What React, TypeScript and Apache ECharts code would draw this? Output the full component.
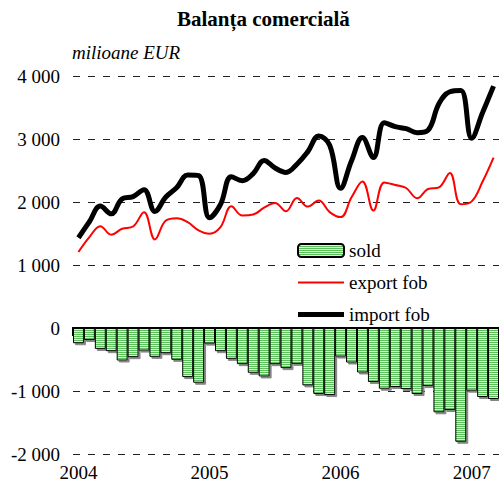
import React, { useEffect, useRef } from "react";
import * as echarts from "echarts";

const months: string[] = [];
for (const y of [2004, 2005, 2006]) for (let m = 1; m <= 12; m++) months.push(`${y}-${String(m).padStart(2, "0")}`);
months.push("2007-01", "2007-02", "2007-03");

const soldValues = [
  -242, -190, -332, -368, -516, -463, -358, -458, -400, -505, -779, -869,
  -248, -368, -490, -574, -711, -769, -574, -637, -569, -911, -1048, -1064,
  -453, -548, -706, -858, -964, -937, -969, -1048, -922, -1338, -1301, -1806,
  -995, -1095, -1127,
];
const exportValues = [
  1206, 1442, 1617, 1480, 1575, 1611, 1838, 1406, 1706, 1743, 1680, 1550,
  1496, 1601, 1932, 1785, 1801, 1910, 1986, 1853, 2064, 1927, 2022, 1840,
  1760, 2074, 2327, 1864, 2311, 2270, 2222, 2059, 2207, 2232, 2460, 1964,
  2010, 2325, 2706,
];
const importValues = [
  1433, 1686, 1935, 1812, 2050, 2085, 2196, 1850, 2080, 2230, 2430, 2420,
  1750, 1960, 2400, 2338, 2450, 2660, 2540, 2470, 2600, 2800, 3049, 2900,
  2217, 2654, 3022, 2706, 3259, 3196, 3164, 3101, 3140, 3560, 3750, 3770,
  3013, 3420, 3839,
];

const FONT = "'Liberation Serif', 'Times New Roman', serif";

const fmt = (v: number) => {
  const s = Math.abs(v).toString().replace(/\B(?=(\d{3})+(?!\d))/g, " ");
  return (v < 0 ? "-" : "") + s;
};

function stripePattern() {
  const c = document.createElement("canvas");
  c.width = 4;
  c.height = 2;
  const ctx = c.getContext("2d");
  if (ctx) {
    ctx.fillStyle = "#5cbf5c";
    ctx.fillRect(0, 0, 4, 1);
    ctx.fillStyle = "#d6f4d6";
    ctx.fillRect(0, 1, 4, 1);
  }
  return { image: c, repeat: "repeat" };
}

export default function App() {
  const ref = useRef<HTMLDivElement>(null);
  useEffect(() => {
    if (!ref.current) return;
    const chart = echarts.init(ref.current, undefined, { renderer: "svg" });
    const yearTick = (i: number) => i % 12 === 0;
    chart.setOption({
      animation: false,
      backgroundColor: "#fff",
      title: [
        {
          text: "Balanța comercială",
          left: 177,
          top: 8,
          padding: 0,
          textStyle: { fontFamily: FONT, fontSize: 21, fontWeight: "bold", color: "#000" },
        },
        {
          text: "milioane EUR",
          left: 72,
          top: 43,
          padding: 0,
          textStyle: { fontFamily: FONT, fontSize: 19, fontStyle: "italic", fontWeight: "normal", color: "#000" },
        },
      ],
      legend: {
        orient: "vertical",
        left: 297,
        top: 241,
        padding: 0,
        itemWidth: 46,
        itemHeight: 13,
        itemGap: 13,
        data: [
          { name: "sold" },
          { name: "export fob", icon: "path://M0,0H46V2H0Z" },
          { name: "import fob", icon: "path://M0,0H46V5H0Z" },
        ],
        textStyle: { fontFamily: FONT, fontSize: 19, color: "#000" },
      },
      grid: { left: 73, right: 0, top: 76, height: 378, containLabel: false },
      xAxis: [
        {
          type: "category",
          data: months,
          boundaryGap: true,
          axisLine: { onZero: true, onZeroAxisIndex: 0, lineStyle: { color: "#000", width: 2 } },
          axisTick: { show: true, interval: yearTick, length: 8, inside: false, lineStyle: { color: "#000", width: 2 } },
          axisLabel: { show: false },
          splitLine: { show: false },
        },
        {
          type: "category",
          data: months,
          boundaryGap: true,
          axisLine: { show: true, onZero: true, onZeroAxisIndex: 0, lineStyle: { color: "#000", width: 2 } },
          axisTick: { show: true, interval: yearTick, length: 8, inside: true, lineStyle: { color: "#000", width: 2 } },
          axisLabel: { show: false },
          splitLine: { show: false },
        },
        {
          type: "category",
          data: months,
          position: "bottom",
          boundaryGap: true,
          axisLine: { show: false, onZero: false },
          axisTick: { show: false },
          axisLabel: {
            show: true,
            interval: yearTick,
            formatter: (v: string) => v.slice(0, 4),
            fontFamily: FONT,
            fontSize: 19,
            color: "#000",
            margin: 9,
          },
          splitLine: { show: false },
        },
      ],
      yAxis: {
        type: "value",
        min: -2000,
        max: 4000,
        interval: 1000,
        axisLine: { show: false },
        axisTick: { show: false },
        axisLabel: { formatter: fmt, fontFamily: FONT, fontSize: 19, color: "#000", margin: 13 },
        splitLine: { show: true, lineStyle: { color: "#222", width: 1, type: [7, 8] } },
      },
      series: [
        {
          name: "sold",
          type: "bar",
          xAxisIndex: 0,
          data: soldValues,
          barCategoryGap: "0%",
          itemStyle: {
            color: stripePattern(),
            borderColor: "#000",
            borderWidth: 1,
            shadowColor: "rgba(120,120,120,0.9)",
            shadowOffsetX: 2,
            shadowOffsetY: 2,
            shadowBlur: 0,
          },
          z: 2,
        },
        {
          name: "export fob",
          type: "line",
          xAxisIndex: 0,
          data: exportValues,
          smooth: 0.4,
          symbol: "none",
          lineStyle: { color: "#ff0000", width: 2 },
          itemStyle: { color: "#ff0000" },
          z: 3,
        },
        {
          name: "import fob",
          type: "line",
          xAxisIndex: 0,
          data: importValues,
          smooth: 0.4,
          symbol: "none",
          lineStyle: { color: "#000", width: 5 },
          itemStyle: { color: "#000" },
          z: 4,
        },
      ],
    });
    return () => chart.dispose();
  }, []);
  return <div ref={ref} style={{ position: "absolute", left: 0, top: 0, width: 499, height: 488 }} />;
}
